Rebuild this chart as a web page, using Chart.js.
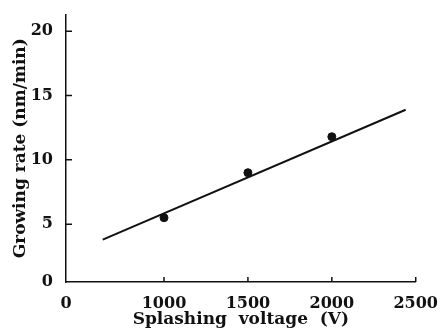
<!DOCTYPE html>
<html>
<head>
<meta charset="utf-8">
<script src="https://cdn.jsdelivr.net/npm/chart.js@4.4.1/dist/chart.umd.min.js"></script>
<style>
  html, body { margin: 0; padding: 0; background: #fff; }
  #wrap { width: 442px; height: 334px; }
</style>
</head>
<body>
<div id="wrap"><canvas id="rateChart"></canvas></div>
<script>
// measured points
const voltage = [1000, 1500, 2000];
const growRate = [5.5, 9.0, 11.8];
// fitted straight line (end points)
const fitVoltage = [635, 2440];
const fitRate = [3.8, 13.9];
// axis ticks; the axes are broken, origin is labelled 0
const xTicks = [1000, 1500, 2000, 2500];
const yTicks = [5, 10, 15, 20];
const xMin = 416, xMax = 2500;
const yMin = 0.5, yMax = 21.3;

const ink = '#111';
const fontFamily = '"DejaVu Serif", "Liberation Serif", serif';

// draws the tick marks pointing into the plot, like the original
const innerTicks = {
    id: 'innerTicks',
    afterDraw(chart) {
        const ctx = chart.ctx;
        const xs = chart.scales.x;
        const ys = chart.scales.y;
        ctx.save();
        ctx.strokeStyle = ink;
        ctx.lineWidth = 1.5;
        ctx.beginPath();
        xTicks.forEach(v => {
            const px = xs.getPixelForValue(v);
            ctx.moveTo(px, xs.top);
            ctx.lineTo(px, xs.top - 5);
        });
        yTicks.forEach(v => {
            const py = ys.getPixelForValue(v);
            ctx.moveTo(ys.right, py);
            ctx.lineTo(ys.right + 6, py);
        });
        ctx.stroke();
        ctx.restore();
    }
};

const ctx = document.getElementById('rateChart').getContext('2d');
new Chart(ctx, {
    type: 'scatter',
    data: {
        datasets: [
            {
                label: 'fit',
                data: fitVoltage.map((v, i) => ({ x: v, y: fitRate[i] })),
                showLine: true,
                borderColor: ink,
                borderWidth: 2,
                pointRadius: 0
            },
            {
                label: 'measured',
                data: voltage.map((v, i) => ({ x: v, y: growRate[i] })),
                backgroundColor: ink,
                borderColor: ink,
                pointRadius: 4
            }
        ]
    },
    options: {
        responsive: true,
        maintainAspectRatio: false,
        animation: false,
        layout: { padding: { top: 8, right: 25, left: 0, bottom: 0 } },
        plugins: {
            legend: { display: false },
            tooltip: { enabled: false }
        },
        scales: {
            x: {
                type: 'linear',
                min: xMin,
                max: xMax,
                afterBuildTicks: scale => {
                    scale.ticks = [xMin].concat(xTicks).map(v => ({ value: v }));
                },
                afterFit: scale => { scale.height = 52; },
                grid: { display: false },
                border: { color: ink, width: 1.5 },
                ticks: {
                    autoSkip: false,
                    maxRotation: 0,
                    padding: 4,
                    color: ink,
                    font: { family: fontFamily, size: 16, weight: 'bold' },
                    callback: v => (v === xMin ? '0' : v)
                },
                title: {
                    display: true,
                    text: 'Splashing  voltage  (V)',
                    color: ink,
                    padding: { top: 0, bottom: 4 },
                    font: { family: fontFamily, size: 17, weight: 'bold' }
                }
            },
            y: {
                type: 'linear',
                min: yMin,
                max: yMax,
                afterBuildTicks: scale => {
                    scale.ticks = [yMin].concat(yTicks).map(v => ({ value: v }));
                },
                afterFit: scale => { scale.width = 66; },
                grid: { display: false },
                border: { color: ink, width: 1.5 },
                ticks: {
                    autoSkip: false,
                    padding: 5,
                    color: ink,
                    font: { family: fontFamily, size: 16, weight: 'bold' },
                    callback: v => (v === yMin ? '0' : v)
                },
                title: {
                    display: true,
                    text: 'Growing rate (nm/min)',
                    color: ink,
                    padding: { top: 10, bottom: 0 },
                    font: { family: fontFamily, size: 17, weight: 'bold' }
                }
            }
        }
    },
    plugins: [innerTicks]
});
</script>
</body>
</html>
